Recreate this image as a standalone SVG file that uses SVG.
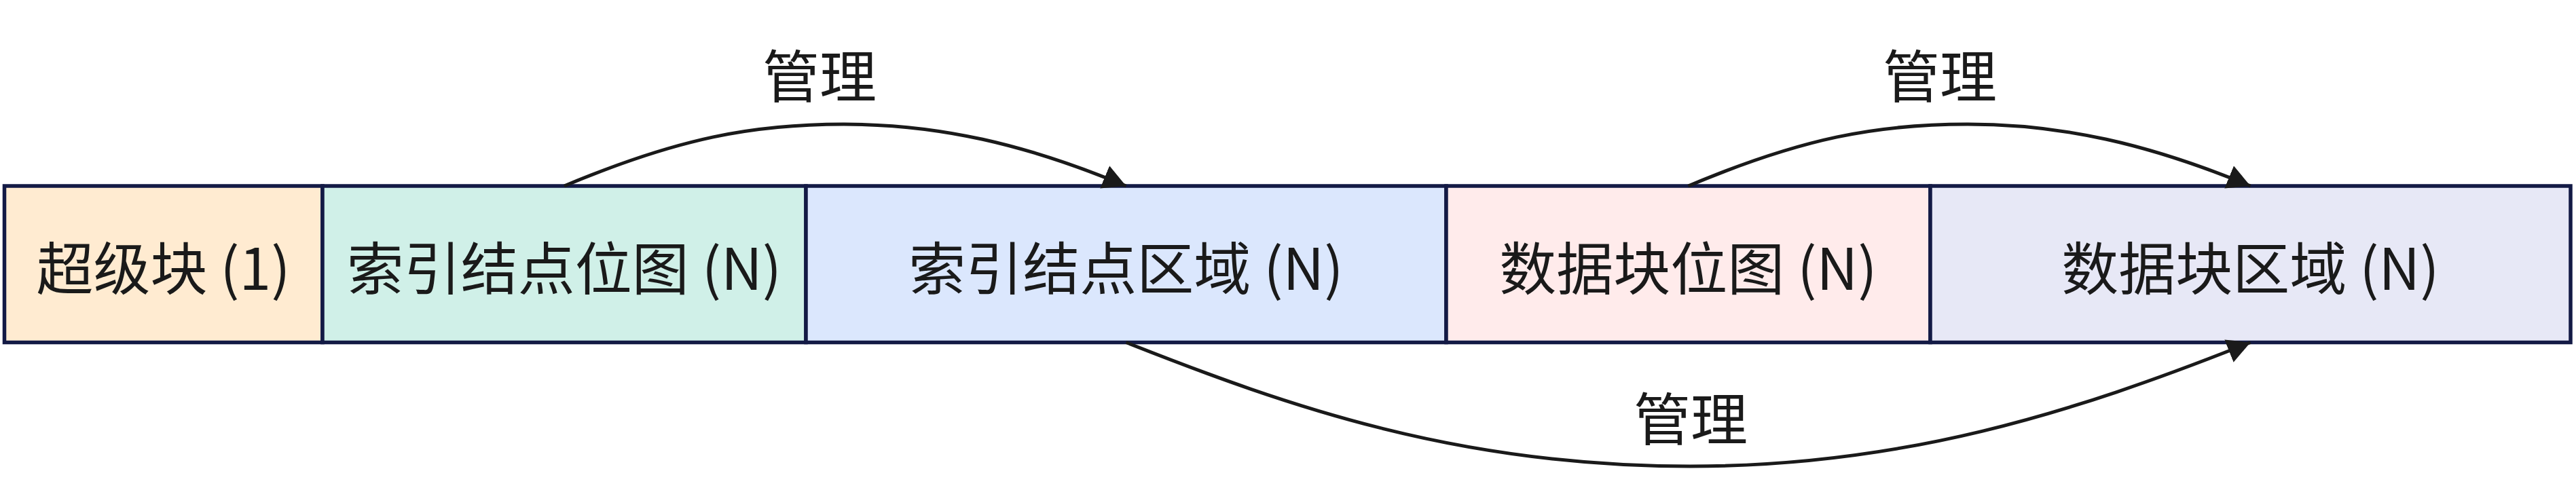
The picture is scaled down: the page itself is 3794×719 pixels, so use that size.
<svg xmlns="http://www.w3.org/2000/svg" width="3794" height="719" viewBox="0 0 3794 719">
<style>
.box{stroke:#131a45;stroke-width:5.5}
.lbl{font-family:"Noto Sans CJK SC","Noto Sans",sans-serif;font-size:84px;fill:#1a1a1a;text-anchor:middle}
.edge{fill:none;stroke:#1a1a1a;stroke-width:5}
</style>
<defs>
<marker id="arrow" markerUnits="userSpaceOnUse" markerWidth="40" markerHeight="40" refX="34" refY="18" orient="auto">
<path d="M0,0 L34,18 L0,36 Z" fill="#1a1a1a"/>
</marker>
</defs>
<rect width="3794" height="719" fill="#ffffff"/>
<g id="node-superblock">
<rect class="box" x="6.5" y="274" width="468.5" height="230.5" fill="#ffebd1"/>
<text class="lbl" x="240.5" y="427">超级块 (1)</text>
</g>
<g id="node-inode-bitmap">
<rect class="box" x="475" y="274" width="712" height="230.5" fill="#d0f0e8"/>
<text class="lbl" x="831" y="427">索引结点位图 (N)</text>
</g>
<g id="node-inode-area">
<rect class="box" x="1187" y="274" width="943" height="230.5" fill="#dbe7fd"/>
<text class="lbl" x="1658.5" y="427">索引结点区域 (N)</text>
</g>
<g id="node-data-bitmap">
<rect class="box" x="2130" y="274" width="713" height="230.5" fill="#ffebeb"/>
<text class="lbl" x="2486.5" y="427">数据块位图 (N)</text>
</g>
<g id="node-data-area">
<rect class="box" x="2843" y="274" width="943" height="230.5" fill="#e7e8f6"/>
<text class="lbl" x="3314.5" y="427">数据块区域 (N)</text>
</g>
<g id="connectors">
<path class="edge" marker-end="url(#arrow)" d="M831,274 C1000,203 1110,183 1243,183 C1382,183 1510,212 1658.5,274"/>
<text class="lbl" x="1207" y="144">管理</text>
<path class="edge" marker-end="url(#arrow)" d="M2486.5,274 C2655,203 2765,183 2898,183 C3037,183 3165,212 3314.5,274"/>
<text class="lbl" x="2857" y="144">管理</text>
<path class="edge" marker-end="url(#arrow)" d="M1658.5,504.5 C1900,600 2150,687 2489,687 C2800,687 3050,610 3314.5,504.5"/>
<text class="lbl" x="2490" y="649">管理</text>
</g>
</svg>
